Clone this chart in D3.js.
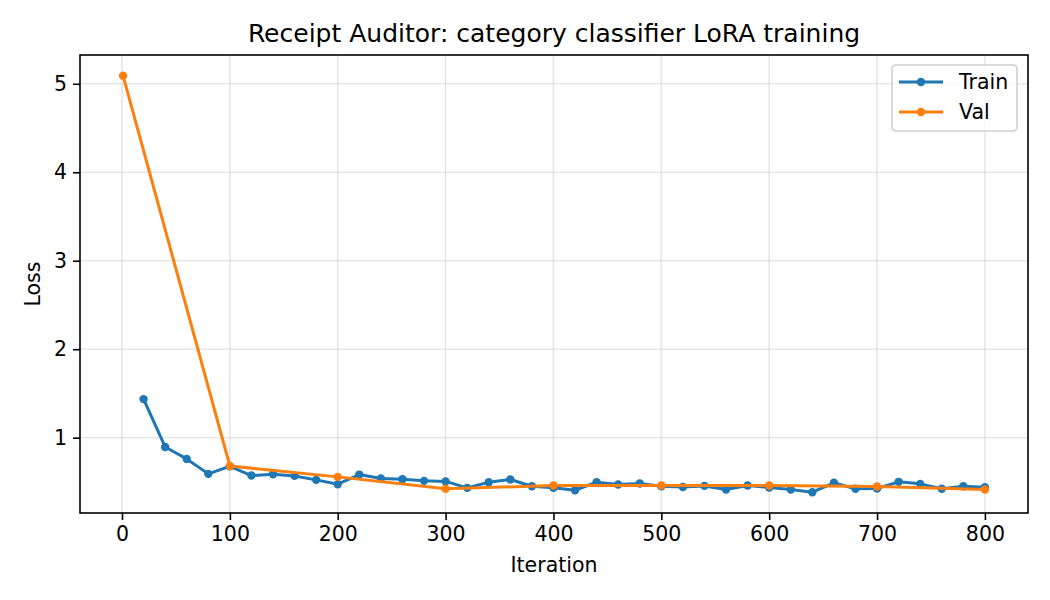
<!DOCTYPE html>
<html>
<head>
<meta charset="utf-8">
<script src="https://cdn.jsdelivr.net/npm/d3@7"></script>
<style>
  body { margin: 0; background: #fff; }
  text { font-family: "DejaVu Sans", sans-serif; fill: #000; }
</style>
</head>
<body>
<div id="chart"></div>
<script>
// data
const trainIters = [20, 40, 60, 80, 100, 120, 140, 160, 180, 200, 220, 240, 260, 280, 300,
  320, 340, 360, 380, 400, 420, 440, 460, 480, 500, 520, 540, 560, 580, 600,
  620, 640, 660, 680, 700, 720, 740, 760, 780, 800];
const trainLoss = [1.436, 0.895, 0.760, 0.591, 0.677, 0.572, 0.587, 0.568, 0.523, 0.474, 0.583, 0.538, 0.530, 0.512, 0.506,
  0.433, 0.497, 0.527, 0.451, 0.433, 0.406, 0.497, 0.470, 0.482, 0.451, 0.442, 0.455, 0.414, 0.459, 0.437,
  0.414, 0.384, 0.490, 0.422, 0.425, 0.501, 0.478, 0.422, 0.451, 0.440];
const valIters = [1, 100, 200, 300, 400, 500, 600, 700, 800];
const valLoss = [5.09, 0.680, 0.557, 0.423, 0.459, 0.459, 0.459, 0.448, 0.414];
const xTicks = [0, 100, 200, 300, 400, 500, 600, 700, 800];
const yTicks = [1, 2, 3, 4, 5];

const width = 1050, height = 600;
const margin = { top: 55, left: 80, bottom: 87, right: 22 };
const iwidth = width - margin.left - margin.right;
const iheight = height - margin.top - margin.bottom;
const fs = "20.5px";

const svg = d3.select("#chart").append("svg")
  .attr("width", width)
  .attr("height", height);

// matplotlib style 5% margins
const allX = trainIters.concat(valIters);
const allY = trainLoss.concat(valLoss);
const xMin = d3.min(allX), xMax = d3.max(allX);
const yMin = d3.min(allY), yMax = d3.max(allY);
const xPad = (xMax - xMin) * 0.05, yPad = (yMax - yMin) * 0.05;

const x = d3.scaleLinear().domain([xMin - xPad, xMax + xPad]).range([0, iwidth]);
const y = d3.scaleLinear().domain([yMin - yPad, yMax + yPad]).range([iheight, 0]);

const g = svg.append("g").attr("transform", `translate(${margin.left},${margin.top})`);

// grid
g.append("g").selectAll("line").data(xTicks).enter().append("line")
  .attr("x1", d => x(d)).attr("x2", d => x(d))
  .attr("y1", 0).attr("y2", iheight)
  .attr("stroke", "#b0b0b0").attr("stroke-opacity", 0.3).attr("stroke-width", 1.6);
g.append("g").selectAll("line").data(yTicks).enter().append("line")
  .attr("y1", d => y(d)).attr("y2", d => y(d))
  .attr("x1", 0).attr("x2", iwidth)
  .attr("stroke", "#b0b0b0").attr("stroke-opacity", 0.3).attr("stroke-width", 1.6);

const line = d3.line().x(d => x(d[0])).y(d => y(d[1]));

function drawSeries(xs, ys, color) {
  const pts = xs.map((d, i) => [d, ys[i]]);
  g.append("path").datum(pts)
    .attr("d", line)
    .attr("fill", "none")
    .attr("stroke", color)
    .attr("stroke-width", 3)
    .attr("stroke-linejoin", "round");
  g.append("g").selectAll("circle").data(pts).enter().append("circle")
    .attr("cx", d => x(d[0])).attr("cy", d => y(d[1]))
    .attr("r", 4.2).attr("fill", color);
}
drawSeries(trainIters, trainLoss, "#1f77b4");
drawSeries(valIters, valLoss, "#ff7f0e");

// axes
const xAxis = g.append("g")
  .attr("transform", `translate(0,${iheight})`)
  .call(d3.axisBottom(x).tickValues(xTicks).tickSize(7).tickPadding(6).tickFormat(d3.format("d")));
const yAxis = g.append("g")
  .call(d3.axisLeft(y).tickValues(yTicks).tickSize(7).tickPadding(6).tickFormat(d3.format("d")));
[xAxis, yAxis].forEach(a => {
  a.select(".domain").remove();
  a.selectAll(".tick line").attr("stroke", "#000").attr("stroke-width", 1.6);
  a.selectAll("text").style("font-size", fs).style("font-family", "DejaVu Sans, sans-serif").attr("fill", "#000");
});

// frame
g.append("rect")
  .attr("width", iwidth).attr("height", iheight)
  .attr("fill", "none").attr("stroke", "#000").attr("stroke-width", 1.6);

// labels
svg.append("text")
  .attr("x", margin.left + iwidth / 2).attr("y", 42)
  .attr("text-anchor", "middle").style("font-size", "25px")
  .text("Receipt Auditor: category classifier LoRA training");
svg.append("text")
  .attr("x", margin.left + iwidth / 2).attr("y", 572)
  .attr("text-anchor", "middle").style("font-size", fs)
  .text("Iteration");
svg.append("text")
  .attr("transform", `translate(40,${margin.top + iheight / 2}) rotate(-90)`)
  .attr("text-anchor", "middle").style("font-size", fs)
  .text("Loss");

// legend
const legendItems = [["Train", "#1f77b4"], ["Val", "#ff7f0e"]];
const lg = svg.append("g").attr("transform", "translate(892,65)");
lg.append("rect")
  .attr("width", 125).attr("height", 66).attr("rx", 4)
  .attr("fill", "#fff").attr("fill-opacity", 0.8)
  .attr("stroke", "#d0d0d0").attr("stroke-width", 1.6);
legendItems.forEach((d, i) => {
  const cy = 17 + i * 30;
  lg.append("line").attr("x1", 7).attr("x2", 51).attr("y1", cy).attr("y2", cy)
    .attr("stroke", d[1]).attr("stroke-width", 3);
  lg.append("circle").attr("cx", 29).attr("cy", cy).attr("r", 4.2).attr("fill", d[1]);
  lg.append("text").attr("x", 67).attr("y", cy + 7).style("font-size", fs).text(d[0]);
});
</script>
</body>
</html>
